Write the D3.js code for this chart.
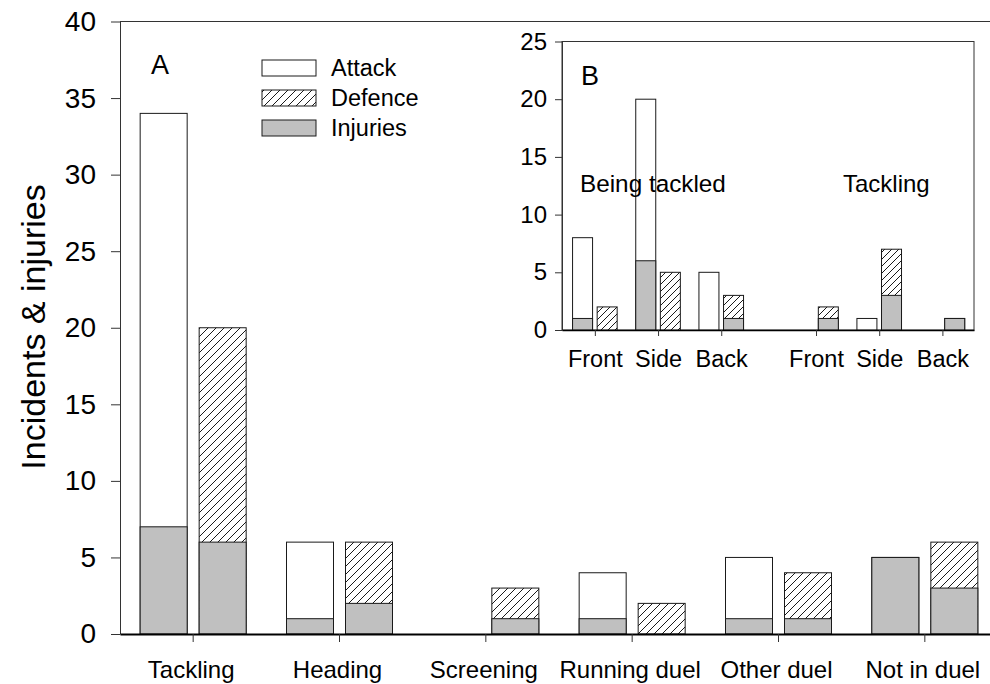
<!DOCTYPE html>
<html>
<head>
<meta charset="utf-8">
<script src="https://cdn.jsdelivr.net/npm/d3@7"></script>
<style>
  html, body { margin: 0; padding: 0; background: #fff; }
  svg { display: block; font-family: "Liberation Sans", Arial, sans-serif; }
</style>
</head>
<body>
<svg id="chart" width="990" height="684"></svg>
<script>
// Panel A: incidents by situation, split into attack / defence, with injuries overlaid
const categories = ["Tackling", "Heading", "Screening", "Running duel", "Other duel", "Not in duel"];
const attack = [34, 6, 0, 4, 5, 5];
const defence = [20, 6, 3, 2, 4, 6];
const attackInjuries = [7, 1, 0, 1, 1, 5];
const defenceInjuries = [6, 2, 1, 0, 1, 3];
const mainTicks = [0, 5, 10, 15, 20, 25, 30, 35, 40];

// Panel B: tackle direction, for the player being tackled and the tackler
const insetGroups = ["Being tackled", "Tackling"];
const insetDirections = ["Front", "Side", "Back", "Front", "Side", "Back"];
const insetAttack = [8, 20, 5, 0, 1, 0];
const insetDefence = [2, 5, 3, 2, 7, 1];
const insetAttackInjuries = [1, 6, 0, 0, 0, 0];
const insetDefenceInjuries = [0, 0, 1, 1, 3, 1];
const insetTicks = [0, 5, 10, 15, 20, 25];

const legendItems = ["Attack", "Defence", "Injuries"];

const svg = d3.select("#chart");
const FONT = "Liberation Sans, Arial, sans-serif";
const GREY = "#c0c0c0";
const EDGE = "#1a1a1a";

// Diagonal hatch fills
const defs = svg.append("defs");
function hatch(id, s) {
  const p = defs.append("pattern")
    .attr("id", id).attr("patternUnits", "userSpaceOnUse")
    .attr("width", s).attr("height", s);
  p.append("rect").attr("width", s).attr("height", s).attr("fill", "#fff");
  p.append("path")
    .attr("d", `M0,${s} L${s},0 M${-s/4},${s/4} L${s/4},${-s/4} M${s*3/4},${s*5/4} L${s*5/4},${s*3/4}`)
    .attr("stroke", "#000").attr("stroke-width", 0.9);
}
hatch("hatchMain", 8);
hatch("hatchInset", 7);

// ---------- Panel A ----------
const x = d3.scaleBand().domain(categories).range([120, 998]).paddingInner(0).paddingOuter(0);
const y = d3.scaleLinear().domain([0, 40]).range([634, 21.5]);
const barW = 47, gap = 12;
const cx = c => x(c) + x.bandwidth() / 2;

const main = svg.append("g");

// top frame line
main.append("line")
  .attr("x1", 120).attr("x2", 998).attr("y1", y(40)).attr("y2", y(40))
  .attr("stroke", "#333").attr("stroke-width", 1);

function drawBars(g, keys, posFn, values, injuries, side, w, g2, yS, fill) {
  const rows = keys.map((k, i) => ({ k, i, v: values[i], inj: injuries[i] }));
  const bx = d => side < 0 ? posFn(d) - g2 / 2 - w : posFn(d) + g2 / 2;
  g.selectAll(null).data(rows.filter(d => d.v > 0)).join("rect")
    .attr("x", d => bx(d)).attr("width", w)
    .attr("y", d => yS(d.v)).attr("height", d => yS(0) - yS(d.v))
    .attr("fill", fill).attr("stroke", EDGE).attr("stroke-width", 1);
  g.selectAll(null).data(rows.filter(d => d.inj > 0)).join("rect")
    .attr("x", d => bx(d)).attr("width", w)
    .attr("y", d => yS(d.inj)).attr("height", d => yS(0) - yS(d.inj))
    .attr("fill", GREY).attr("stroke", EDGE).attr("stroke-width", 1);
}

const mainPos = d => cx(d.k);
drawBars(main, categories, mainPos, attack, attackInjuries, -1, barW, gap, y, "#fff");
drawBars(main, categories, mainPos, defence, defenceInjuries, 1, barW, gap, y, "url(#hatchMain)");

// y axis
const yAxis = main.append("g").attr("transform", "translate(120,0)")
  .call(d3.axisLeft(y).tickValues(mainTicks).tickSize(9).tickSizeOuter(0).tickPadding(15));
yAxis.select(".domain").attr("stroke", "#333");
yAxis.selectAll(".tick line").attr("stroke", "#333");
yAxis.selectAll("text").attr("font-size", 28).attr("fill", "#000").attr("font-family", FONT);

// x axis
const xAxis = main.append("g").attr("transform", `translate(0,${y(0)})`)
  .call(d3.axisBottom(x).tickSize(8).tickSizeOuter(0));
xAxis.select(".domain").attr("stroke", "#000").attr("stroke-width", 2);
xAxis.selectAll(".tick line").attr("stroke", "#333");
xAxis.selectAll("text").attr("font-size", 24).attr("fill", "#000").attr("font-family", FONT)
  .attr("x", -2).attr("y", 44).attr("dy", 0);

// y title
svg.append("text")
  .attr("transform", "translate(45,327) rotate(-90)")
  .attr("text-anchor", "middle").attr("font-size", 34)
  .text("Incidents & injuries");

// panel letter
svg.append("text").attr("x", 151).attr("y", 74).attr("font-size", 27).text("A");

// legend
const legendFills = ["#fff", "url(#hatchMain)", GREY];
const leg = svg.append("g").attr("transform", "translate(262,60)");
legendItems.forEach((name, i) => {
  leg.append("rect").attr("x", 0).attr("y", i * 30).attr("width", 54).attr("height", 16)
    .attr("fill", legendFills[i]).attr("stroke", EDGE).attr("stroke-width", 1);
  leg.append("text").attr("x", 69).attr("y", i * 30 + 16).attr("font-size", 23.5).text(name);
});

// ---------- Panel B (inset) ----------
const ix = d3.scaleLinear().domain([-0.52, 6.0]).range([562, 974]);
const iy = d3.scaleLinear().domain([0, 25]).range([330, 41.5]);
const slot = i => i + (i >= 3 ? 0.5 : 0);
const inset = svg.append("g");

inset.append("rect")
  .attr("x", ix.range()[0]).attr("y", iy(25))
  .attr("width", ix.range()[1] - ix.range()[0]).attr("height", iy(0) - iy(25))
  .attr("fill", "#fff").attr("stroke", "#333").attr("stroke-width", 1);

const insetPos = d => ix(slot(d.i));
drawBars(inset, insetDirections, insetPos, insetAttack, insetAttackInjuries, -1, 20, 4.6, iy, "#fff");
drawBars(inset, insetDirections, insetPos, insetDefence, insetDefenceInjuries, 1, 20, 4.6, iy, "url(#hatchInset)");

const iyAxis = inset.append("g").attr("transform", `translate(${ix.range()[0]},0)`)
  .call(d3.axisLeft(iy).tickValues(insetTicks).tickSize(7).tickSizeOuter(0).tickPadding(8));
iyAxis.select(".domain").attr("stroke", "#333");
iyAxis.selectAll(".tick line").attr("stroke", "#333");
iyAxis.selectAll("text").attr("font-size", 24).attr("fill", "#000").attr("font-family", FONT);

const insetSlots = insetDirections.map((d, i) => slot(i));
const ixAxis = inset.append("g").attr("transform", `translate(0,${iy(0)})`)
  .call(d3.axisBottom(ix).tickValues(insetSlots).tickSize(6).tickSizeOuter(0)
    .tickFormat((v, i) => insetDirections[i]));
ixAxis.select(".domain").attr("stroke", "#000").attr("stroke-width", 1.6);
ixAxis.selectAll(".tick line").attr("stroke", "#333");
ixAxis.selectAll("text").attr("font-size", 23.5).attr("fill", "#000").attr("font-family", FONT)
  .attr("y", 37).attr("dy", 0);

inset.append("text").attr("x", 581).attr("y", 85).attr("font-size", 27).text("B");
inset.append("text").attr("x", 580).attr("y", 192).attr("font-size", 24.3).text(insetGroups[0]);
inset.append("text").attr("x", 843).attr("y", 192).attr("font-size", 24).text(insetGroups[1]);
</script>
</body>
</html>
